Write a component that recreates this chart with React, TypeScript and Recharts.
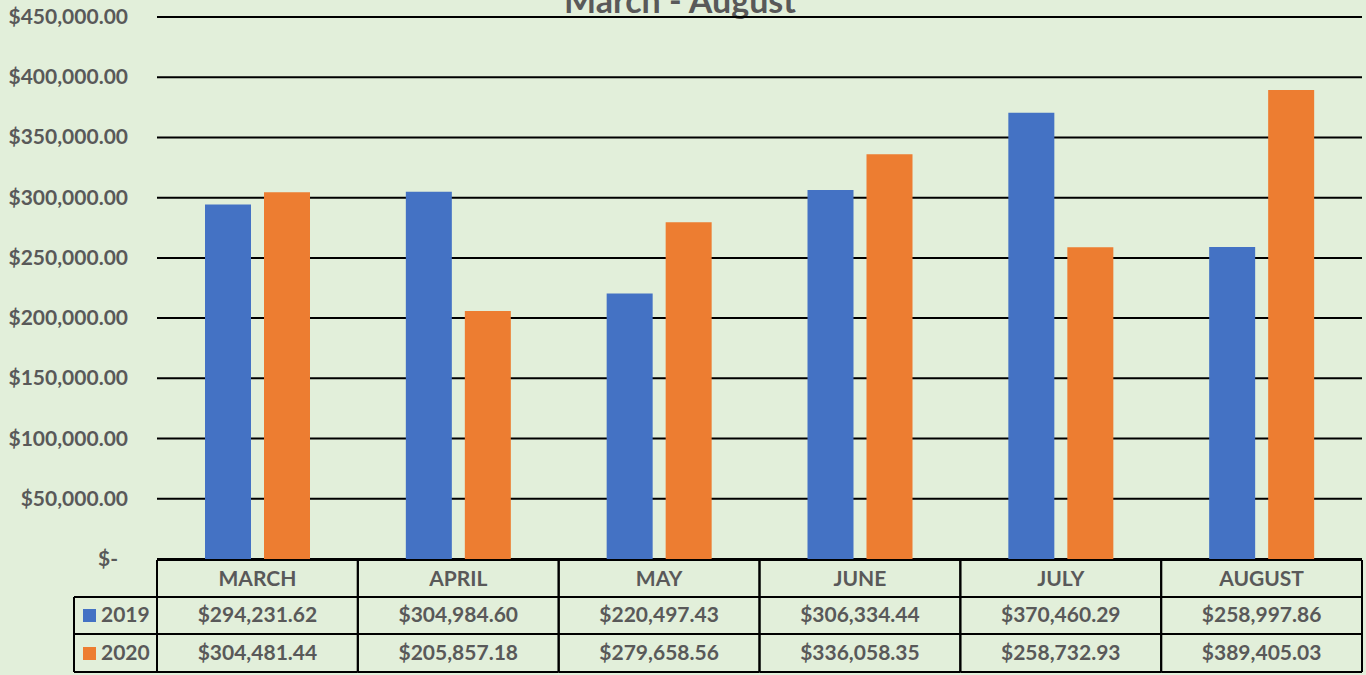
import React from 'react';
import { BarChart, Bar, XAxis, YAxis, CartesianGrid } from 'recharts';

const months = ['MARCH', 'APRIL', 'MAY', 'JUNE', 'JULY', 'AUGUST'];
const sales2019 = [294231.62, 304984.6, 220497.43, 306334.44, 370460.29, 258997.86];
const sales2020 = [304481.44, 205857.18, 279658.56, 336058.35, 258732.93, 389405.03];
const yTicks = [0, 50000, 100000, 150000, 200000, 250000, 300000, 350000, 400000, 450000];

const data = months.map((m, i) => ({ month: m, y2019: sales2019[i], y2020: sales2020[i] }));

const W = 1366;
const H = 675;
const PLOT_LEFT = 157;
const PLOT_RIGHT = 1362;
const BAND = (PLOT_RIGHT - PLOT_LEFT) / months.length;
const BLUE = '#4472C4';
const ORANGE = '#ED7D31';
const TEXT = '#595959';
const FONT = 'Lato, "Open Sans", sans-serif';

const money = (v: number) =>
    '$' + v.toLocaleString('en-US', { minimumFractionDigits: 2, maximumFractionDigits: 2 });

function YTick({ y, payload }: any) {
    const v = payload.value;
    return (
        <text x={v === 0 ? 118 : 128} y={y} dy={7} textAnchor="end" fill={TEXT}
            fontFamily={FONT} fontWeight={700} fontSize={21}>
            {v === 0 ? '$-' : money(v)}
        </text>
    );
}

function TableTick({ x, y, index }: any) {
    const half = BAND / 2;
    const rows = [y + 1, y + 38, y + 75, y + 113];
    const line = { stroke: '#000', strokeWidth: 2 };
    const txt = { fill: TEXT, fontFamily: FONT, fontWeight: 700, fontSize: 21, textAnchor: 'middle' as const };
    return (
        <g>
            {rows.map((r, i) => (
                <line key={i} x1={x - half} x2={x + half} y1={r} y2={r} {...line} />
            ))}
            <line x1={x - half} x2={x - half} y1={rows[0]} y2={rows[3]} {...line} />
            <line x1={x + half} x2={x + half} y1={rows[0]} y2={rows[3]} {...line} />
            <text x={x} y={y + 27} {...txt}>{months[index]}</text>
            <text x={x} y={y + 63} {...txt}>{money(sales2019[index])}</text>
            <text x={x} y={y + 101} {...txt}>{money(sales2020[index])}</text>
            {index === 0 && (
                <g>
                    {rows.slice(1).map((r, i) => (
                        <line key={i} x1={74} x2={x - half} y1={r} y2={r} {...line} />
                    ))}
                    <line x1={74} x2={74} y1={rows[1]} y2={rows[3]} {...line} />
                    <rect x={83} y={y + 50} width={13} height={13} fill={BLUE} />
                    <rect x={83} y={y + 88} width={13} height={13} fill={ORANGE} />
                    <text x={101} y={y + 63} {...txt} textAnchor="start">2019</text>
                    <text x={101} y={y + 101} {...txt} textAnchor="start">2020</text>
                </g>
            )}
        </g>
    );
}

export default function App() {
    return (
        <div style={{ position: 'absolute', left: 0, top: 0, width: W, height: H, background: '#E2EFDA', overflow: 'hidden' }}>
            <div style={{
                position: 'absolute', left: 0, width: W - 6, top: -21, textAlign: 'center',
                fontFamily: FONT, fontWeight: 700, fontSize: 34, color: TEXT,
            }}>
                March - August
            </div>
            <BarChart width={W} height={H} data={data}
                margin={{ top: 17, right: W - PLOT_RIGHT, bottom: 0, left: 0 }}
                barCategoryGap="24%" barGap={13}>
                <CartesianGrid vertical={false} stroke="#000" strokeWidth={2} />
                <YAxis width={PLOT_LEFT} domain={[0, 450000]} ticks={yTicks} interval={0}
                    axisLine={false} tickLine={false} tick={<YTick />} />
                <XAxis dataKey="month" height={116} interval={0} axisLine={false}
                    tickLine={false} tickSize={0} tickMargin={0} tick={<TableTick />} />
                <Bar dataKey="y2019" fill={BLUE} barSize={46} isAnimationActive={false} />
                <Bar dataKey="y2020" fill={ORANGE} barSize={46} isAnimationActive={false} />
            </BarChart>
        </div>
    );
}
